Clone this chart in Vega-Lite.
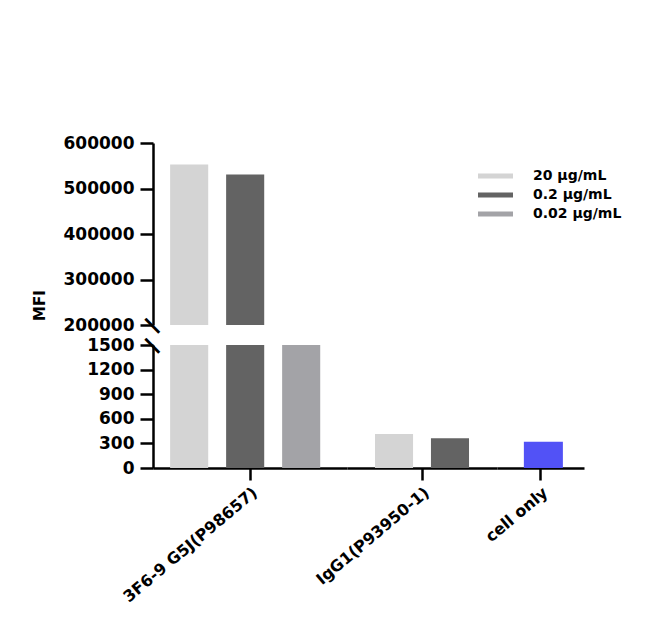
{
  "$schema": "https://vega.github.io/schema/vega-lite/v6.json",
  "padding": {"left": 32, "top": 134, "right": 10, "bottom": 10},
  "background": "white",
  "data": {
    "values": [
      {"group": "3F6-9 G5J(P98657)", "dose": "20 µg/mL", "value": 553000},
      {"group": "3F6-9 G5J(P98657)", "dose": "0.2 µg/mL", "value": 531000},
      {"group": "3F6-9 G5J(P98657)", "dose": "0.02 µg/mL", "value": 150000},
      {"group": "IgG1(P93950-1)", "dose": "20 µg/mL", "value": 415},
      {"group": "IgG1(P93950-1)", "dose": "0.2 µg/mL", "value": 362},
      {"group": "cell only", "dose": "cell only", "value": 321}
    ]
  },
  "config": {
    "view": {"stroke": null},
    "font": "DejaVu Sans",
    "axis": {
      "domainColor": "black", "domainWidth": 2.5, "tickColor": "black", "tickWidth": 2.5,
      "labelFont": "DejaVu Sans", "labelFontWeight": "bold", "labelFontSize": 17, "labelColor": "black",
      "grid": false, "titleFont": "DejaVu Sans", "titleFontWeight": "bold", "titleColor": "black", "labelOverlap": false
    },
    "legend": {
      "orient": "none", "legendX": 325, "legendY": 26,
      "labelFont": "DejaVu Sans", "labelFontWeight": "bold", "labelFontSize": 14, "labelColor": "black",
      "symbolType": "M-1,-0.36H4V0.36H-1Z", "symbolSize": 196, "symbolStrokeWidth": 0,
      "labelOffset": 41, "rowPadding": 5
    }
  },
  "bounds": "flush",
  "align": "each",
  "columns": 3,
  "spacing": {"row": 20, "column": 0},
  "resolve": {"scale": {"x": "independent", "xOffset": "independent", "y": "independent"}},
  "concat": [
    {
      "width": 194, "height": 182,
      "layer": [
        {
          "transform": [{"filter": "datum.group === '3F6-9 G5J(P98657)'"}],
          "mark": {"type": "bar", "clip": true},
          "encoding": {
            "x": {"field": "group", "type": "nominal", "axis": null, "scale": {"paddingInner": 0, "paddingOuter": 0}},
            "xOffset": {"field": "dose", "type": "nominal", "sort": ["20 µg/mL", "0.2 µg/mL", "0.02 µg/mL"], "scale": {"paddingInner": 0.32, "paddingOuter": 0.392, "align": 0.39}},
            "y": {"field": "value", "type": "quantitative", "scale": {"domain": [200000, 600000], "nice": false, "zero": false},
                  "axis": {"values": [200000, 300000, 400000, 500000, 600000], "format": "d", "tickSize": 13, "labelPadding": 6,
                           "title": "MFI", "titleFontSize": 15, "titleY": 162, "titleAlign": "center", "titlePadding": 16}},
            "color": {"field": "dose", "type": "nominal",
                      "scale": {"domain": ["20 µg/mL", "0.2 µg/mL", "0.02 µg/mL", "cell only"], "range": ["#d4d4d4", "#636363", "#a3a3a7", "#5252f6"]},
                      "legend": {"title": null, "values": ["20 µg/mL", "0.2 µg/mL", "0.02 µg/mL"]}}
          }
        },
        {
          "data": {"values": [{"mark": "break"}]},
          "mark": {"type": "text", "text": "—", "angle": 45, "align": "center", "baseline": "middle", "fontSize": 22, "fontWeight": "bold", "color": "black"},
          "encoding": {
            "x": {"datum": "3F6-9 G5J(P98657)", "bandPosition": 0},
            "y": {"datum": 200000, "type": "quantitative",
                  "axis": {"values": [200000, 300000, 400000, 500000, 600000], "format": "d", "tickSize": 13, "labelPadding": 6,
                           "title": "MFI", "titleFontSize": 15, "titleY": 162, "titleAlign": "center", "titlePadding": 16}}
          }
        }
      ]
    },
    {
      "width": 150, "height": 182,
      "transform": [{"filter": "datum.group === 'IgG1(P93950-1)'"}],
      "mark": {"type": "bar", "clip": true},
      "encoding": {
        "x": {"field": "group", "type": "nominal", "axis": null, "scale": {"paddingInner": 0, "paddingOuter": 0}},
        "xOffset": {"field": "dose", "type": "nominal", "sort": ["20 µg/mL", "0.2 µg/mL"], "scale": {"paddingInner": 0.32, "paddingOuter": 0.5, "align": 0.5}},
        "y": {"field": "value", "type": "quantitative", "scale": {"domain": [200000, 600000], "nice": false, "zero": false}, "axis": null},
        "color": {"field": "dose", "type": "nominal", "legend": {"title": null, "values": ["20 µg/mL", "0.2 µg/mL", "0.02 µg/mL"]}}
      }
    },
    {
      "width": 87, "height": 182,
      "transform": [{"filter": "datum.group === 'cell only'"}],
      "mark": {"type": "bar", "clip": true},
      "encoding": {
        "x": {"field": "group", "type": "nominal", "axis": null, "scale": {"paddingInner": 0, "paddingOuter": 0}},
        "xOffset": {"field": "dose", "type": "nominal", "scale": {"paddingInner": 0.32, "paddingOuter": 0.418, "align": 0.56}},
        "y": {"field": "value", "type": "quantitative", "scale": {"domain": [200000, 600000], "nice": false, "zero": false}, "axis": null},
        "color": {"field": "dose", "type": "nominal", "legend": {"title": null, "values": ["20 µg/mL", "0.2 µg/mL", "0.02 µg/mL"]}}
      }
    },
    {
      "width": 194, "height": 123,
      "layer": [
        {
          "transform": [{"filter": "datum.group === '3F6-9 G5J(P98657)'"}],
          "mark": {"type": "bar", "clip": true},
          "encoding": {
            "x": {"field": "group", "type": "nominal", "scale": {"paddingInner": 0, "paddingOuter": 0},
                  "axis": {"title": null, "labelAngle": -40, "labelFontSize": 16, "tickSize": 12, "labelPadding": 4}},
            "xOffset": {"field": "dose", "type": "nominal", "sort": ["20 µg/mL", "0.2 µg/mL", "0.02 µg/mL"], "scale": {"paddingInner": 0.32, "paddingOuter": 0.392, "align": 0.39}},
            "y": {"field": "value", "type": "quantitative", "scale": {"domain": [0, 1500], "nice": false},
                  "axis": {"values": [0, 300, 600, 900, 1200, 1500], "format": "d", "title": null, "tickSize": 13, "labelPadding": 6}},
            "color": {"field": "dose", "type": "nominal", "legend": {"title": null, "values": ["20 µg/mL", "0.2 µg/mL", "0.02 µg/mL"]}}
          }
        },
        {
          "data": {"values": [{"mark": "break"}]},
          "mark": {"type": "text", "text": "—", "angle": 45, "align": "center", "baseline": "middle", "fontSize": 22, "fontWeight": "bold", "color": "black"},
          "encoding": {
            "x": {"datum": "3F6-9 G5J(P98657)", "bandPosition": 0,
                  "axis": {"title": null, "labelAngle": -40, "labelFontSize": 16, "tickSize": 12, "labelPadding": 4}},
            "y": {"datum": 1500, "type": "quantitative",
                  "axis": {"values": [0, 300, 600, 900, 1200, 1500], "format": "d", "title": null, "tickSize": 13, "labelPadding": 6}}
          }
        }
      ]
    },
    {
      "width": 150, "height": 123,
      "transform": [{"filter": "datum.group === 'IgG1(P93950-1)'"}],
      "mark": {"type": "bar", "clip": true},
      "encoding": {
        "x": {"field": "group", "type": "nominal", "scale": {"paddingInner": 0, "paddingOuter": 0},
              "axis": {"title": null, "labelAngle": -40, "labelFontSize": 16, "tickSize": 12, "labelPadding": 4}},
        "xOffset": {"field": "dose", "type": "nominal", "sort": ["20 µg/mL", "0.2 µg/mL"], "scale": {"paddingInner": 0.32, "paddingOuter": 0.5, "align": 0.5}},
        "y": {"field": "value", "type": "quantitative", "scale": {"domain": [0, 1500], "nice": false}, "axis": null},
        "color": {"field": "dose", "type": "nominal", "legend": {"title": null, "values": ["20 µg/mL", "0.2 µg/mL", "0.02 µg/mL"]}}
      }
    },
    {
      "width": 87, "height": 123,
      "transform": [{"filter": "datum.group === 'cell only'"}],
      "mark": {"type": "bar", "clip": true},
      "encoding": {
        "x": {"field": "group", "type": "nominal", "scale": {"paddingInner": 0, "paddingOuter": 0},
              "axis": {"title": null, "labelAngle": -40, "labelFontSize": 16, "tickSize": 12, "labelPadding": 4}},
        "xOffset": {"field": "dose", "type": "nominal", "scale": {"paddingInner": 0.32, "paddingOuter": 0.418, "align": 0.56}},
        "y": {"field": "value", "type": "quantitative", "scale": {"domain": [0, 1500], "nice": false}, "axis": null},
        "color": {"field": "dose", "type": "nominal", "legend": {"title": null, "values": ["20 µg/mL", "0.2 µg/mL", "0.02 µg/mL"]}}
      }
    }
  ]
}
